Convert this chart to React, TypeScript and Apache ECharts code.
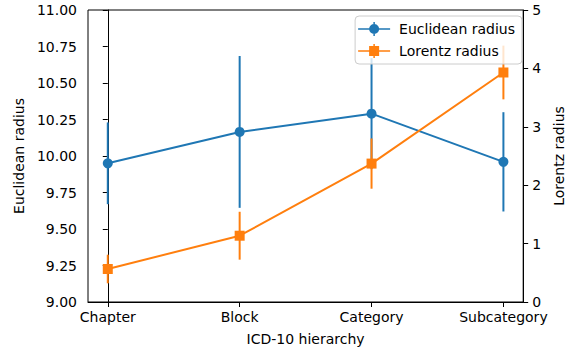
import React, { useEffect, useRef } from "react";
import * as echarts from "echarts";

const categories = ["Chapter", "Block", "Category", "Subcategory"];
const euclideanMean = [9.95, 10.165, 10.29, 9.96];
const euclideanErr = [0.28, 0.52, 0.38, 0.34];
const lorentzMean = [0.565, 1.135, 2.37, 3.93];
const lorentzErr = [0.245, 0.41, 0.43, 0.46];
const leftTicks = { min: 9, max: 11, interval: 0.25 };
const rightTicks = { min: 0, max: 5, interval: 1 };

const BLUE = "#1f77b4";
const ORANGE = "#ff7f0e";
const FONT = "DejaVu Sans";
const W = 574;
const H = 354;

const circleIcon =
  "path://M0,6.25 H32 V7.75 H0 Z M15.25,0 H16.75 V14 H15.25 Z M11,7 A5,5 0 1,1 21,7 A5,5 0 1,1 11,7 Z";
const squareIcon =
  "path://M0,6.25 H32 V7.75 H0 Z M15.25,0 H16.75 V14 H15.25 Z M11,2 H21 V12 H11 Z";

function errorSeries(name: string, means: number[], errs: number[], color: string, yAxisIndex: number) {
  return {
    type: "custom",
    name: name + "_err",
    yAxisIndex,
    silent: true,
    data: means.map((m, i) => [i, m - errs[i], m + errs[i]]),
    encode: { x: 0, y: [1, 2] },
    renderItem: (params: any, api: any) => {
      const x = api.value(0);
      const lo = api.coord([x, api.value(1)]);
      const hi = api.coord([x, api.value(2)]);
      return {
        type: "line",
        shape: { x1: lo[0], y1: lo[1], x2: hi[0], y2: hi[1] },
        style: { stroke: color, lineWidth: 2 },
      };
    },
  };
}

export default function App() {
  const ref = useRef<HTMLDivElement>(null);
  useEffect(() => {
    if (!ref.current) return;
    document.body.style.margin = "0";
    document.body.style.overflow = "hidden";
    const chart = echarts.init(ref.current, undefined, { renderer: "svg", width: W, height: H });
    const tickVals = categories.map((_, i) => i);
    chart.setOption({
      animation: false,
      backgroundColor: "#fff",
      textStyle: { fontFamily: FONT },
      grid: {
        left: 88,
        right: 46,
        top: 10,
        bottom: 52,
        show: true,
        borderColor: "#000",
        borderWidth: 1,
        containLabel: false,
      },
      legend: {
        orient: "vertical",
        right: 52,
        top: 16,
        padding: [6, 7, 6, 3],
        itemGap: 8,
        itemWidth: 32,
        itemHeight: 14,
        backgroundColor: "rgba(255,255,255,0.8)",
        borderColor: "#cccccc",
        borderWidth: 1,
        borderRadius: 4,
        textStyle: { fontFamily: FONT, fontSize: 14, color: "#000", padding: [0, 0, 0, 4] },
        itemStyle: { borderWidth: 0 },
        lineStyle: { width: 0 },
        data: [
          { name: "Euclidean radius", icon: circleIcon, itemStyle: { color: BLUE } },
          { name: "Lorentz radius", icon: squareIcon, itemStyle: { color: ORANGE } },
        ],
      },
      xAxis: {
        type: "value",
        min: -0.15,
        max: 3.15,
        name: "ICD-10 hierarchy",
        nameLocation: "middle",
        nameGap: 30,
        nameTextStyle: { fontFamily: FONT, fontSize: 14, color: "#000" },
        axisLine: { show: true, lineStyle: { color: "#000", width: 1 } },
        axisTick: { show: true, customValues: tickVals, length: 5, lineStyle: { color: "#000" } },
        axisLabel: {
          customValues: tickVals,
          formatter: (v: number) => categories[Math.round(v)] ?? "",
          fontFamily: FONT,
          fontSize: 14,
          color: "#000",
          margin: 8,
        },
        splitLine: { show: false },
      },
      yAxis: [
        {
          type: "value",
          position: "left",
          min: leftTicks.min,
          max: leftTicks.max,
          interval: leftTicks.interval,
          name: "Euclidean radius",
          nameLocation: "middle",
          nameRotate: 90,
          nameGap: 58,
          nameTextStyle: { fontFamily: FONT, fontSize: 14, color: "#000" },
          axisLine: { show: true, lineStyle: { color: "#000", width: 1 } },
          axisTick: { show: true, length: 5, lineStyle: { color: "#000" } },
          axisLabel: {
            formatter: (v: number) => v.toFixed(2),
            fontFamily: FONT,
            fontSize: 14,
            color: "#000",
            margin: 11,
          },
          splitLine: { show: false },
        },
        {
          type: "value",
          position: "right",
          min: rightTicks.min,
          max: rightTicks.max,
          interval: rightTicks.interval,
          name: "Lorentz radius",
          nameLocation: "middle",
          nameRotate: 90,
          nameGap: 24,
          nameTextStyle: { fontFamily: FONT, fontSize: 14, color: "#000" },
          axisLine: { show: true, lineStyle: { color: "#000", width: 1 } },
          axisTick: { show: true, length: 5, lineStyle: { color: "#000" } },
          axisLabel: { fontFamily: FONT, fontSize: 14, color: "#000", margin: 9 },
          splitLine: { show: false },
        },
      ],
      series: [
        errorSeries("Euclidean radius", euclideanMean, euclideanErr, BLUE, 0),
        {
          type: "line",
          name: "Euclidean radius",
          yAxisIndex: 0,
          data: euclideanMean.map((v, i) => [i, v]),
          symbol: "circle",
          symbolSize: 10,
          showAllSymbol: true,
          itemStyle: { color: BLUE },
          lineStyle: { color: BLUE, width: 2 },
        },
        errorSeries("Lorentz radius", lorentzMean, lorentzErr, ORANGE, 1),
        {
          type: "line",
          name: "Lorentz radius",
          yAxisIndex: 1,
          data: lorentzMean.map((v, i) => [i, v]),
          symbol: "rect",
          symbolSize: 10,
          showAllSymbol: true,
          itemStyle: { color: ORANGE },
          lineStyle: { color: ORANGE, width: 2 },
        },
      ],
    });
    return () => chart.dispose();
  }, []);
  return (
    <div
      ref={ref}
      style={{ position: "fixed", left: 0, top: 0, width: W, height: H, background: "#fff" }}
    />
  );
}
